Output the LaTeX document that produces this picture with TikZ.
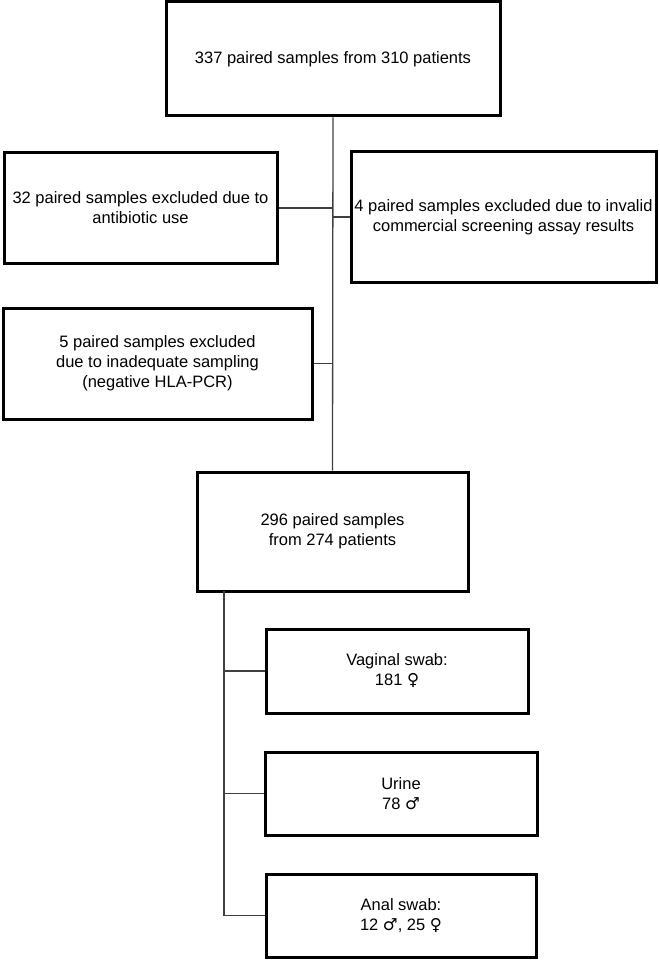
\documentclass[tikz,border=0pt]{standalone}
\usepackage{fontspec}
\setmainfont{Liberation Sans}
\newfontfamily\symfont{DejaVu Sans}
\newcommand{\fem}{{\symfont ♀}}
\newcommand{\mal}{{\symfont ♂}}
\begin{document}
\begin{tikzpicture}[x=1pt,y=-1pt,
  box/.style={draw=black,line width=3pt,fill=white,align=center,inner sep=0pt,
    font=\fontsize{16.5}{20}\selectfont},
  conn/.style={draw=black!75,line width=1.3pt}]
\useasboundingbox (0,0) rectangle (660,960);
\node[box,minimum width=334,minimum height=114] (top) at (333,59) {337 paired samples from 310 patients};
\node[box,minimum width=273,minimum height=110] (ab) at (140.5,208) {32 paired samples excluded due to\\antibiotic use};
\node[box,minimum width=305,minimum height=130] (inv) at (503.5,217) {4 paired samples excluded due to invalid\\commercial screening assay results};
\node[box,minimum width=309,minimum height=111] (hla) at (157.5,363.5) {5 paired samples excluded\\due to inadequate sampling\\(negative HLA-PCR)};
\node[box,minimum width=271,minimum height=119] (mid) at (332.5,531.5) {296 paired samples\\from 274 patients};
\node[box,minimum width=262,minimum height=84] (vag) at (397,671) {Vaginal swab:\\181 \fem};
\node[box,minimum width=272,minimum height=83] (uri) at (401,793.5) {Urine\\78 \mal};
\node[box,minimum width=270,minimum height=83] (anal) at (401,915.5) {Anal swab:\\12 \mal, 25 \fem};
\coordinate (br) at (224,591);
\draw[conn] (top.south) -- (mid.north);
\draw[conn] (ab.east) -- (ab.east -| top.south);
\draw[conn] (inv.west) -- (inv.west -| top.south);
\draw[conn] (hla.east) -- (hla.east -| top.south);
\draw[conn] (br) |- (anal.west);
\draw[conn] (br |- vag.west) -- (vag.west);
\draw[conn] (br |- uri.west) -- (uri.west);
\end{tikzpicture}
\end{document}
